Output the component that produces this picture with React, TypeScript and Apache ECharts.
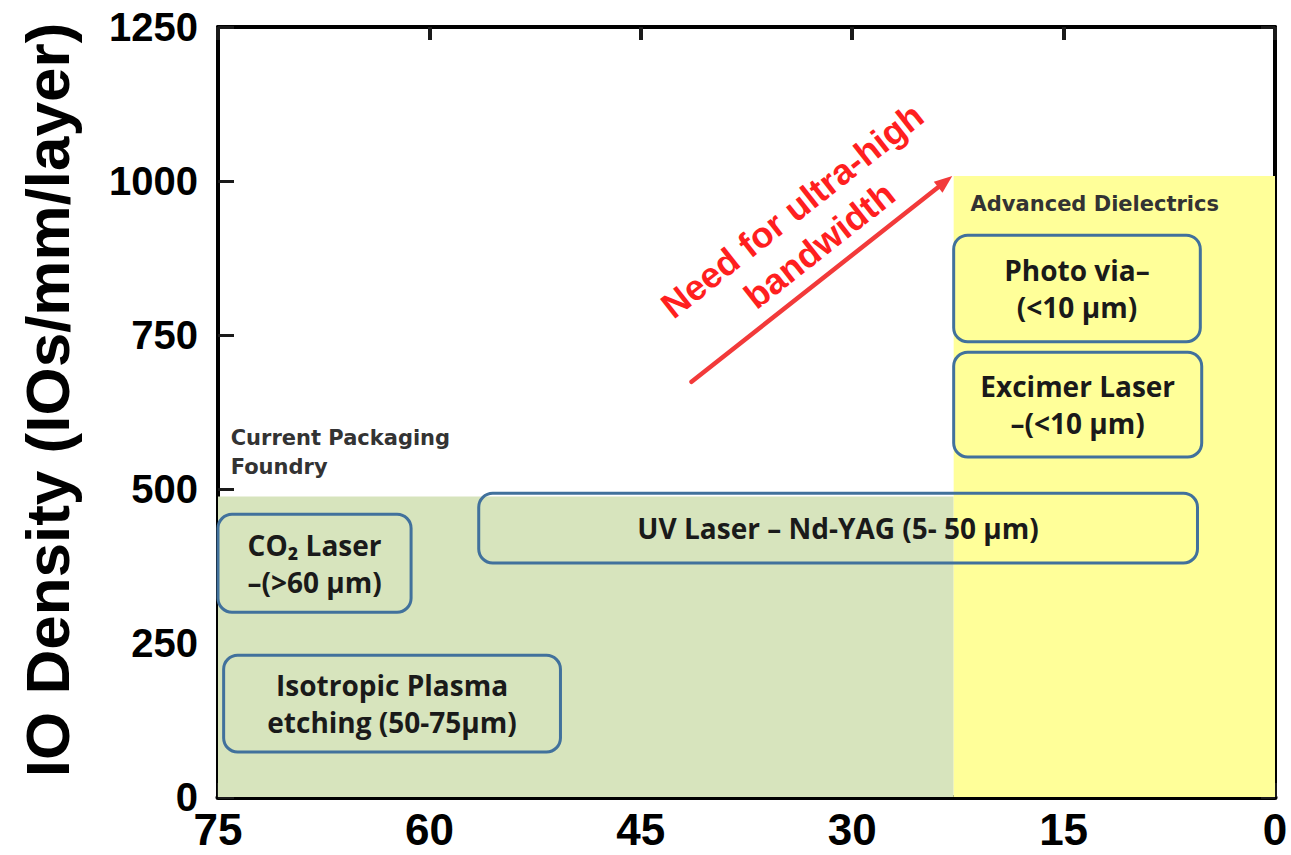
import React, { useEffect, useRef } from 'react';
import * as echarts from 'echarts';

// Axis ranges
const xMin = 0;
const xMax = 75;
const xStep = 15;
const yMin = 0;
const yMax = 1250;
const yStep = 250;
const yAxisTitle = 'IO Density (IOs/mm/layer)';

// Shaded regions
const regionXFrom = [75, 22.8];
const regionXTo = [22.8, 0];
const regionYTo = [488, 1008];
const regionColors = ['#d7e4bd', '#ffff99'];

// Region captions
const captionTexts = ['Current Packaging\nFoundry', 'Advanced Dielectrics'];
const captionX = [74.1, 21.6];
const captionY = [560, 963];

// Technology boxes
const boxLabels = [
  'CO₂ Laser\n–(>60 µm)',
  'Isotropic Plasma\netching (50-75µm)',
  'UV Laser – Nd-YAG (5- 50 µm)',
  'Photo via–\n(<10 µm)',
  'Excimer Laser\n–(<10 µm)',
];
const boxXFrom = [75, 74.6, 56.5, 22.8, 22.8];
const boxXTo = [61.3, 50.7, 5.5, 5.3, 5.2];
const boxYFrom = [300, 73, 380, 739, 552];
const boxYTo = [459, 230, 493, 912, 722];

// Arrow
const arrowFrom = [41.4, 674];
const arrowTo = [22.9, 1008];
const arrowText = 'Need for ultra-high\nbandwidth';
const arrowTextPos = [33.3, 924];

const BOX_FONT = '"Open Sans", "Noto Sans", sans-serif';
const CAPTION_FONT = '"DejaVu Sans", sans-serif';
const AXIS_FONT = '"Liberation Sans", Arial, sans-serif';

export default function App() {
  const ref = useRef<HTMLDivElement>(null);

  useEffect(() => {
    if (!ref.current) return;
    const chart = echarts.init(ref.current, undefined, { renderer: 'svg' });

    const regionData = regionXFrom.map((x, i) => [x, regionXTo[i], regionYTo[i], i]);
    const boxData = boxXFrom.map((x, i) => [x, boxXTo[i], boxYFrom[i], boxYTo[i], i]);
    const captionData = captionX.map((x, i) => [x, captionY[i], i]);

    const baseX = {
      type: 'value',
      min: xMin,
      max: xMax,
      interval: xStep,
      inverse: true,
      splitLine: { show: false },
    };
    const baseY = {
      type: 'value',
      min: yMin,
      max: yMax,
      interval: yStep,
      splitLine: { show: false },
    };

    const option: any = {
      animation: false,
      grid: { left: 218, right: 16, top: 27, bottom: 58, containLabel: false },
      xAxis: [
        {
          ...baseX,
          position: 'bottom',
          axisLine: { show: true, onZero: false, lineStyle: { color: '#000', width: 5 } },
          axisTick: { show: true, inside: true, length: 14, lineStyle: { color: '#1a1a1a', width: 3 } },
          axisLabel: {
            show: true,
            color: '#000',
            fontSize: 44,
            fontWeight: 'bold',
            fontFamily: AXIS_FONT,
            margin: 10,
            formatter: (v: number) => String(v),
          },
        },
        {
          ...baseX,
          position: 'top',
          axisLine: { show: true, onZero: false, lineStyle: { color: '#000', width: 4 } },
          axisTick: { show: true, inside: true, length: 13, lineStyle: { color: '#1a1a1a', width: 4 } },
          axisLabel: { show: false },
        },
      ],
      yAxis: [
        {
          ...baseY,
          position: 'left',
          name: yAxisTitle,
          nameLocation: 'middle',
          nameGap: 140,
          nameTextStyle: {
            color: '#000',
            fontSize: 62,
            fontWeight: 'bold',
            fontFamily: AXIS_FONT,
            padding: [0, 0, 0, 24],
          },
          axisLine: { show: true, onZero: false, lineStyle: { color: '#000', width: 4 } },
          axisTick: { show: true, inside: true, length: 16, lineStyle: { color: '#1a1a1a', width: 3 } },
          axisLabel: {
            show: true,
            color: '#000',
            fontSize: 40,
            fontWeight: 'bold',
            fontFamily: AXIS_FONT,
            margin: 20,
            formatter: (v: number) => String(v),
          },
        },
        {
          ...baseY,
          position: 'right',
          axisLine: { show: true, onZero: false, lineStyle: { color: '#000', width: 4 } },
          axisTick: { show: true, inside: true, length: 14, lineStyle: { color: '#1a1a1a', width: 3 } },
          axisLabel: { show: false },
        },
      ],
      series: [
        {
          type: 'custom',
          name: 'regions',
          z: 1,
          silent: true,
          encode: { x: [0, 1], y: 2 },
          data: regionData,
          renderItem: (params: any, api: any) => {
            const i = api.value(3);
            const p1 = api.coord([api.value(0), api.value(2)]);
            const p2 = api.coord([api.value(1), 0]);
            return {
              type: 'rect',
              shape: {
                x: Math.min(p1[0], p2[0]),
                y: Math.min(p1[1], p2[1]),
                width: Math.abs(p2[0] - p1[0]),
                height: Math.abs(p2[1] - p1[1]),
              },
              style: { fill: regionColors[i] },
            };
          },
        },
        {
          type: 'custom',
          name: 'captions',
          z: 3,
          silent: true,
          encode: { x: 0, y: 1 },
          data: captionData,
          renderItem: (params: any, api: any) => {
            const i = api.value(2);
            const p = api.coord([api.value(0), api.value(1)]);
            return {
              type: 'text',
              x: p[0],
              y: p[1],
              style: {
                text: captionTexts[i],
                fill: '#333',
                fontSize: 21,
                fontWeight: 'bold',
                fontFamily: CAPTION_FONT,
                align: 'left',
                verticalAlign: 'middle',
                lineHeight: 29,
              },
            };
          },
        },
        {
          type: 'custom',
          name: 'boxes',
          z: 4,
          silent: true,
          encode: { x: [0, 1], y: [2, 3] },
          data: boxData,
          renderItem: (params: any, api: any) => {
            const i = api.value(4);
            const p1 = api.coord([api.value(0), api.value(3)]);
            const p2 = api.coord([api.value(1), api.value(2)]);
            const x = Math.min(p1[0], p2[0]);
            const y = Math.min(p1[1], p2[1]);
            const w = Math.abs(p2[0] - p1[0]);
            const h = Math.abs(p2[1] - p1[1]);
            return {
              type: 'group',
              children: [
                {
                  type: 'rect',
                  shape: { x, y, width: w, height: h, r: 14 },
                  style: { fill: 'rgba(0,0,0,0)', stroke: '#41719c', lineWidth: 3 },
                },
                {
                  type: 'text',
                  x: x + w / 2,
                  y: y + h / 2,
                  style: {
                    text: boxLabels[i],
                    fill: '#1a1a1a',
                    fontSize: 28,
                    fontWeight: 'bold',
                    fontFamily: BOX_FONT,
                    align: 'center',
                    verticalAlign: 'middle',
                    lineHeight: 37,
                  },
                },
              ],
            };
          },
        },
        {
          type: 'custom',
          name: 'arrow',
          z: 5,
          silent: true,
          encode: { x: [0, 2], y: [1, 3] },
          data: [[arrowFrom[0], arrowFrom[1], arrowTo[0], arrowTo[1]]],
          renderItem: (params: any, api: any) => {
            const a = api.coord([api.value(0), api.value(1)]);
            const b = api.coord([api.value(2), api.value(3)]);
            const ang = Math.atan2(b[1] - a[1], b[0] - a[0]);
            const headLen = 18;
            const headW = 7;
            const base = [b[0] - headLen * Math.cos(ang), b[1] - headLen * Math.sin(ang)];
            const nx = -Math.sin(ang);
            const ny = Math.cos(ang);
            const tp = api.coord(arrowTextPos);
            return {
              type: 'group',
              children: [
                {
                  type: 'line',
                  shape: { x1: a[0], y1: a[1], x2: base[0], y2: base[1] },
                  style: { stroke: '#f23a3a', lineWidth: 4.5, lineCap: 'round' },
                },
                {
                  type: 'polygon',
                  shape: {
                    points: [
                      [b[0], b[1]],
                      [base[0] + nx * headW, base[1] + ny * headW],
                      [base[0] - nx * headW, base[1] - ny * headW],
                    ],
                  },
                  style: { fill: '#f23a3a' },
                },
                {
                  type: 'text',
                  x: tp[0],
                  y: tp[1],
                  rotation: -ang,
                  style: {
                    text: arrowText,
                    fill: '#ff1f1f',
                    fontSize: 36,
                    fontWeight: 'bold',
                    fontFamily: AXIS_FONT,
                    align: 'center',
                    verticalAlign: 'middle',
                    lineHeight: 44,
                  },
                },
              ],
            };
          },
        },
      ],
    };

    chart.setOption(option);
    return () => chart.dispose();
  }, []);

  return (
    <div
      ref={ref}
      style={{ position: 'fixed', left: 0, top: 0, width: 1291, height: 855, background: '#fff' }}
    />
  );
}
